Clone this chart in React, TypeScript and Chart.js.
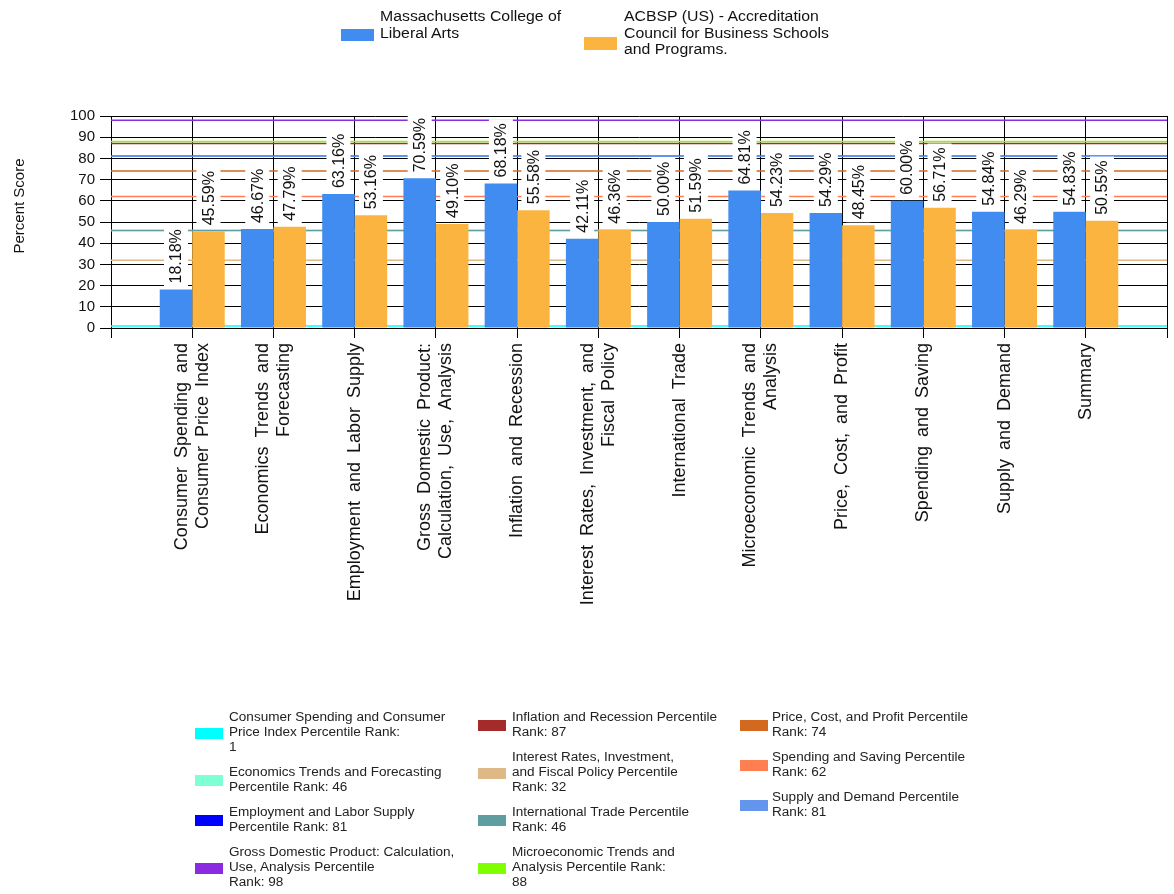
import React, { useEffect, useRef } from "react";
import { Chart, registerables } from "chart.js";

Chart.register(...registerables);

const FONT = "'Liberation Sans', Arial, Helvetica, sans-serif";

// ---------- data ----------
const categoryLines: string[][] = [
  ["Consumer Spending and", "Consumer Price Index"],
  ["Economics Trends and", "Forecasting"],
  ["Employment and Labor Supply"],
  ["Gross Domestic Product:", "Calculation, Use, Analysis"],
  ["Inflation and Recession"],
  ["Interest Rates, Investment, and", "Fiscal Policy"],
  ["International Trade"],
  ["Microeconomic Trends and", "Analysis"],
  ["Price, Cost, and Profit"],
  ["Spending and Saving"],
  ["Supply and Demand"],
  ["Summary"],
];

const seriesNames = [
  "Massachusetts College of Liberal Arts",
  "ACBSP (US) - Accreditation Council for Business Schools and Programs.",
];
const seriesLegendLines: string[][] = [
  ["Massachusetts College of", "Liberal Arts"],
  ["ACBSP (US) - Accreditation", "Council for Business Schools", "and Programs."],
];
const seriesColors = ["#418CF0", "#FCB441"];

const schoolScores = [18.18, 46.67, 63.16, 70.59, 68.18, 42.11, 50.0, 64.81, 54.29, 60.0, 54.84, 54.83];
const acbspScores = [45.59, 47.79, 53.16, 49.1, 55.58, 46.36, 51.59, 54.23, 48.45, 56.71, 46.29, 50.55];

const rankValues = [1, 46, 81, 98, 87, 32, 46, 88, 74, 62, 81];
const rankColors = [
  "#00FFFF", "#7FFFD4", "#0000FF", "#8A2BE2", "#A52A2A", "#DEB887",
  "#5F9EA0", "#7FFF00", "#D2691E", "#FF7F50", "#6495ED",
];
const rankLegendLines: string[][] = [
  ["Consumer Spending and Consumer", "Price Index Percentile Rank:", "1"],
  ["Economics Trends and Forecasting", "Percentile Rank: 46"],
  ["Employment and Labor Supply", "Percentile Rank: 81"],
  ["Gross Domestic Product: Calculation,", "Use, Analysis Percentile", "Rank: 98"],
  ["Inflation and Recession Percentile", "Rank: 87"],
  ["Interest Rates, Investment,", "and Fiscal Policy Percentile", "Rank: 32"],
  ["International Trade Percentile", "Rank: 46"],
  ["Microeconomic Trends and", "Analysis Percentile Rank:", "88"],
  ["Price, Cost, and Profit Percentile", "Rank: 74"],
  ["Spending and Saving Percentile", "Rank: 62"],
  ["Supply and Demand Percentile", "Rank: 81"],
];

const yMin = 0;
const yMax = 100;
const yStep = 10;
const yTitle = "Percent Score";

// axis slots: one empty slot at each end, as in the original chart
const axisLabels = ["", ...categoryLines.map((l) => l.join(" ")), " "];
const pad = (arr: number[]) => [null, ...arr, null];

// ---------- plugins ----------
const rankLinesPlugin = {
  id: "rankLines",
  beforeDatasetsDraw(chart: any) {
    const { ctx, chartArea, scales } = chart;
    ctx.save();
    ctx.beginPath();
    ctx.rect(chartArea.left, chartArea.top, chartArea.right - chartArea.left, chartArea.bottom - chartArea.top);
    ctx.clip();
    rankValues.forEach((v, i) => {
      const y = scales.y.getPixelForValue(v);
      ctx.strokeStyle = rankColors[i];
      ctx.lineWidth = 1.5;
      ctx.beginPath();
      ctx.moveTo(chartArea.left, y);
      ctx.lineTo(chartArea.right, y);
      ctx.stroke();
    });
    ctx.restore();
  },
};

const textPlugin = {
  id: "texts",
  afterDatasetsDraw(chart: any) {
    const { ctx, scales } = chart;
    // data labels
    ctx.save();
    ctx.font = `16px ${FONT}`;
    chart.data.datasets.forEach((ds: any, d: number) => {
      const meta = chart.getDatasetMeta(d);
      meta.data.forEach((el: any, i: number) => {
        const v = ds.data[i];
        if (v == null) return;
        const txt = v.toFixed(2) + "%";
        const w = ctx.measureText(txt).width;
        ctx.save();
        ctx.translate(el.x, el.y - 3);
        ctx.rotate(-Math.PI / 2);
        ctx.fillStyle = "#ffffff";
        ctx.fillRect(0, -12, w + 7, 24);
        ctx.fillStyle = "#111";
        ctx.textAlign = "left";
        ctx.textBaseline = "middle";
        ctx.fillText(txt, 3, 1);
        ctx.restore();
      });
    });
    ctx.restore();

    // category labels (rotated, centred on the tick)
    const xs = scales.x;
    const top = xs.top + 15;
    const lh = 21;
    ctx.save();
    ctx.font = `18px ${FONT}`;
    try { (ctx as any).wordSpacing = "4px"; } catch (e) {}
    ctx.fillStyle = "#111";
    categoryLines.forEach((lines, c) => {
      const x = xs.getPixelForValue(c + 1);
      lines.forEach((line, k) => {
        const off = (k - (lines.length - 1) / 2) * lh;
        ctx.save();
        ctx.translate(x + off, top);
        ctx.rotate(-Math.PI / 2);
        ctx.textAlign = "right";
        ctx.textBaseline = "middle";
        ctx.fillText(line, 0, 0);
        ctx.restore();
      });
    });
    ctx.restore();

    // y axis title
    ctx.save();
    ctx.font = `15px ${FONT}`;
    ctx.fillStyle = "#111";
    ctx.translate(20, 206);
    ctx.rotate(-Math.PI / 2);
    ctx.textAlign = "center";
    ctx.textBaseline = "middle";
    ctx.fillText(yTitle, 0, 0);
    ctx.restore();
  },
};

// ---------- legends ----------
const SeriesLegend = () => {
  const pos = [
    { box: [341, 29, 33, 12], text: [380, 8] },
    { box: [584, 37, 33, 13], text: [624, 8] },
  ];
  return (
    <>
      {seriesNames.map((name, i) => (
        <React.Fragment key={name}>
          <div
            style={{
              position: "absolute",
              left: pos[i].box[0],
              top: pos[i].box[1],
              width: pos[i].box[2],
              height: pos[i].box[3],
              background: seriesColors[i],
            }}
          />
          <div
            style={{
              position: "absolute",
              left: pos[i].text[0],
              top: pos[i].text[1],
              fontSize: 14,
              lineHeight: "16.5px",
              color: "#111",
              whiteSpace: "nowrap",
              transform: "scaleX(1.13)",
              transformOrigin: "left top",
            }}
          >
            {seriesLegendLines[i].map((l, k) => (
              <div key={k}>{l}</div>
            ))}
          </div>
        </React.Fragment>
      ))}
    </>
  );
};

const RankLegend = () => {
  const cols = [
    { start: 0, end: 4, boxX: 195, textX: 229 },
    { start: 4, end: 8, boxX: 478, textX: 512 },
    { start: 8, end: 11, boxX: 740, textX: 772 },
  ];
  const items: any[] = [];
  cols.forEach((c) => {
    let top = 710;
    for (let i = c.start; i < c.end; i++) {
      const lines = rankLegendLines[i];
      const h = lines.length * 15;
      items.push(
        <React.Fragment key={i}>
          <div
            style={{
              position: "absolute",
              left: c.boxX,
              top: top + h / 2 - 5,
              width: 28,
              height: 11,
              background: rankColors[i],
            }}
          />
          <div
            style={{
              position: "absolute",
              left: c.textX,
              top,
              fontSize: 12,
              lineHeight: "15px",
              color: "#222",
              whiteSpace: "nowrap",
              transform: "scaleX(1.13)",
              transformOrigin: "left top",
            }}
          >
            {lines.map((l, k) => (
              <div key={k}>{l}</div>
            ))}
          </div>
        </React.Fragment>
      );
      top += h + 10;
    }
  });
  return <>{items}</>;
};

export default function App() {
  const ref = useRef<HTMLCanvasElement | null>(null);

  useEffect(() => {
    if (!ref.current) return;
    const chart = new Chart(ref.current, {
      type: "bar",
      data: {
        labels: axisLabels,
        datasets: [
          {
            label: seriesNames[0],
            data: pad(schoolScores) as any,
            backgroundColor: seriesColors[0],
            borderWidth: 0,
            categoryPercentage: 0.8,
            barPercentage: 1,
          },
          {
            label: seriesNames[1],
            data: pad(acbspScores) as any,
            backgroundColor: seriesColors[1],
            borderWidth: 0,
            categoryPercentage: 0.8,
            barPercentage: 1,
          },
        ],
      },
      options: {
        responsive: false,
        animation: false,
        devicePixelRatio: 1,
        layout: { padding: { top: 116, right: 7, left: 0, bottom: 0 } },
        plugins: {
          legend: { display: false },
          tooltip: { enabled: false },
          title: { display: false },
        },
        scales: {
          x: {
            type: "category",
            offset: false,
            grid: { offset: false, color: "#000", lineWidth: 1, tickLength: 10, drawTicks: true },
            border: { color: "#000", width: 1 },
            ticks: { display: false, autoSkip: false },
            afterFit: (s: any) => {
              s.height = 894 - 328;
            },
          },
          y: {
            min: yMin,
            max: yMax,
            ticks: {
              stepSize: yStep,
              color: "#111",
              font: { size: 15, family: FONT },
              padding: 5,
            },
            grid: { color: "#000", lineWidth: 1, tickLength: 11 },
            border: { color: "#000", width: 1 },
            afterFit: (s: any) => {
              s.width = 111;
            },
          },
        },
      } as any,
      plugins: [rankLinesPlugin, textPlugin],
    });
    return () => chart.destroy();
  }, []);

  return (
    <div
      style={{
        position: "absolute",
        left: 0,
        top: 0,
        width: 1174,
        height: 894,
        background: "#fff",
        overflow: "hidden",
        fontFamily: FONT,
      }}
    >
      <canvas ref={ref} width={1174} height={894} style={{ position: "absolute", left: 0, top: 0 }} />
      <SeriesLegend />
      <RankLegend />
    </div>
  );
}
